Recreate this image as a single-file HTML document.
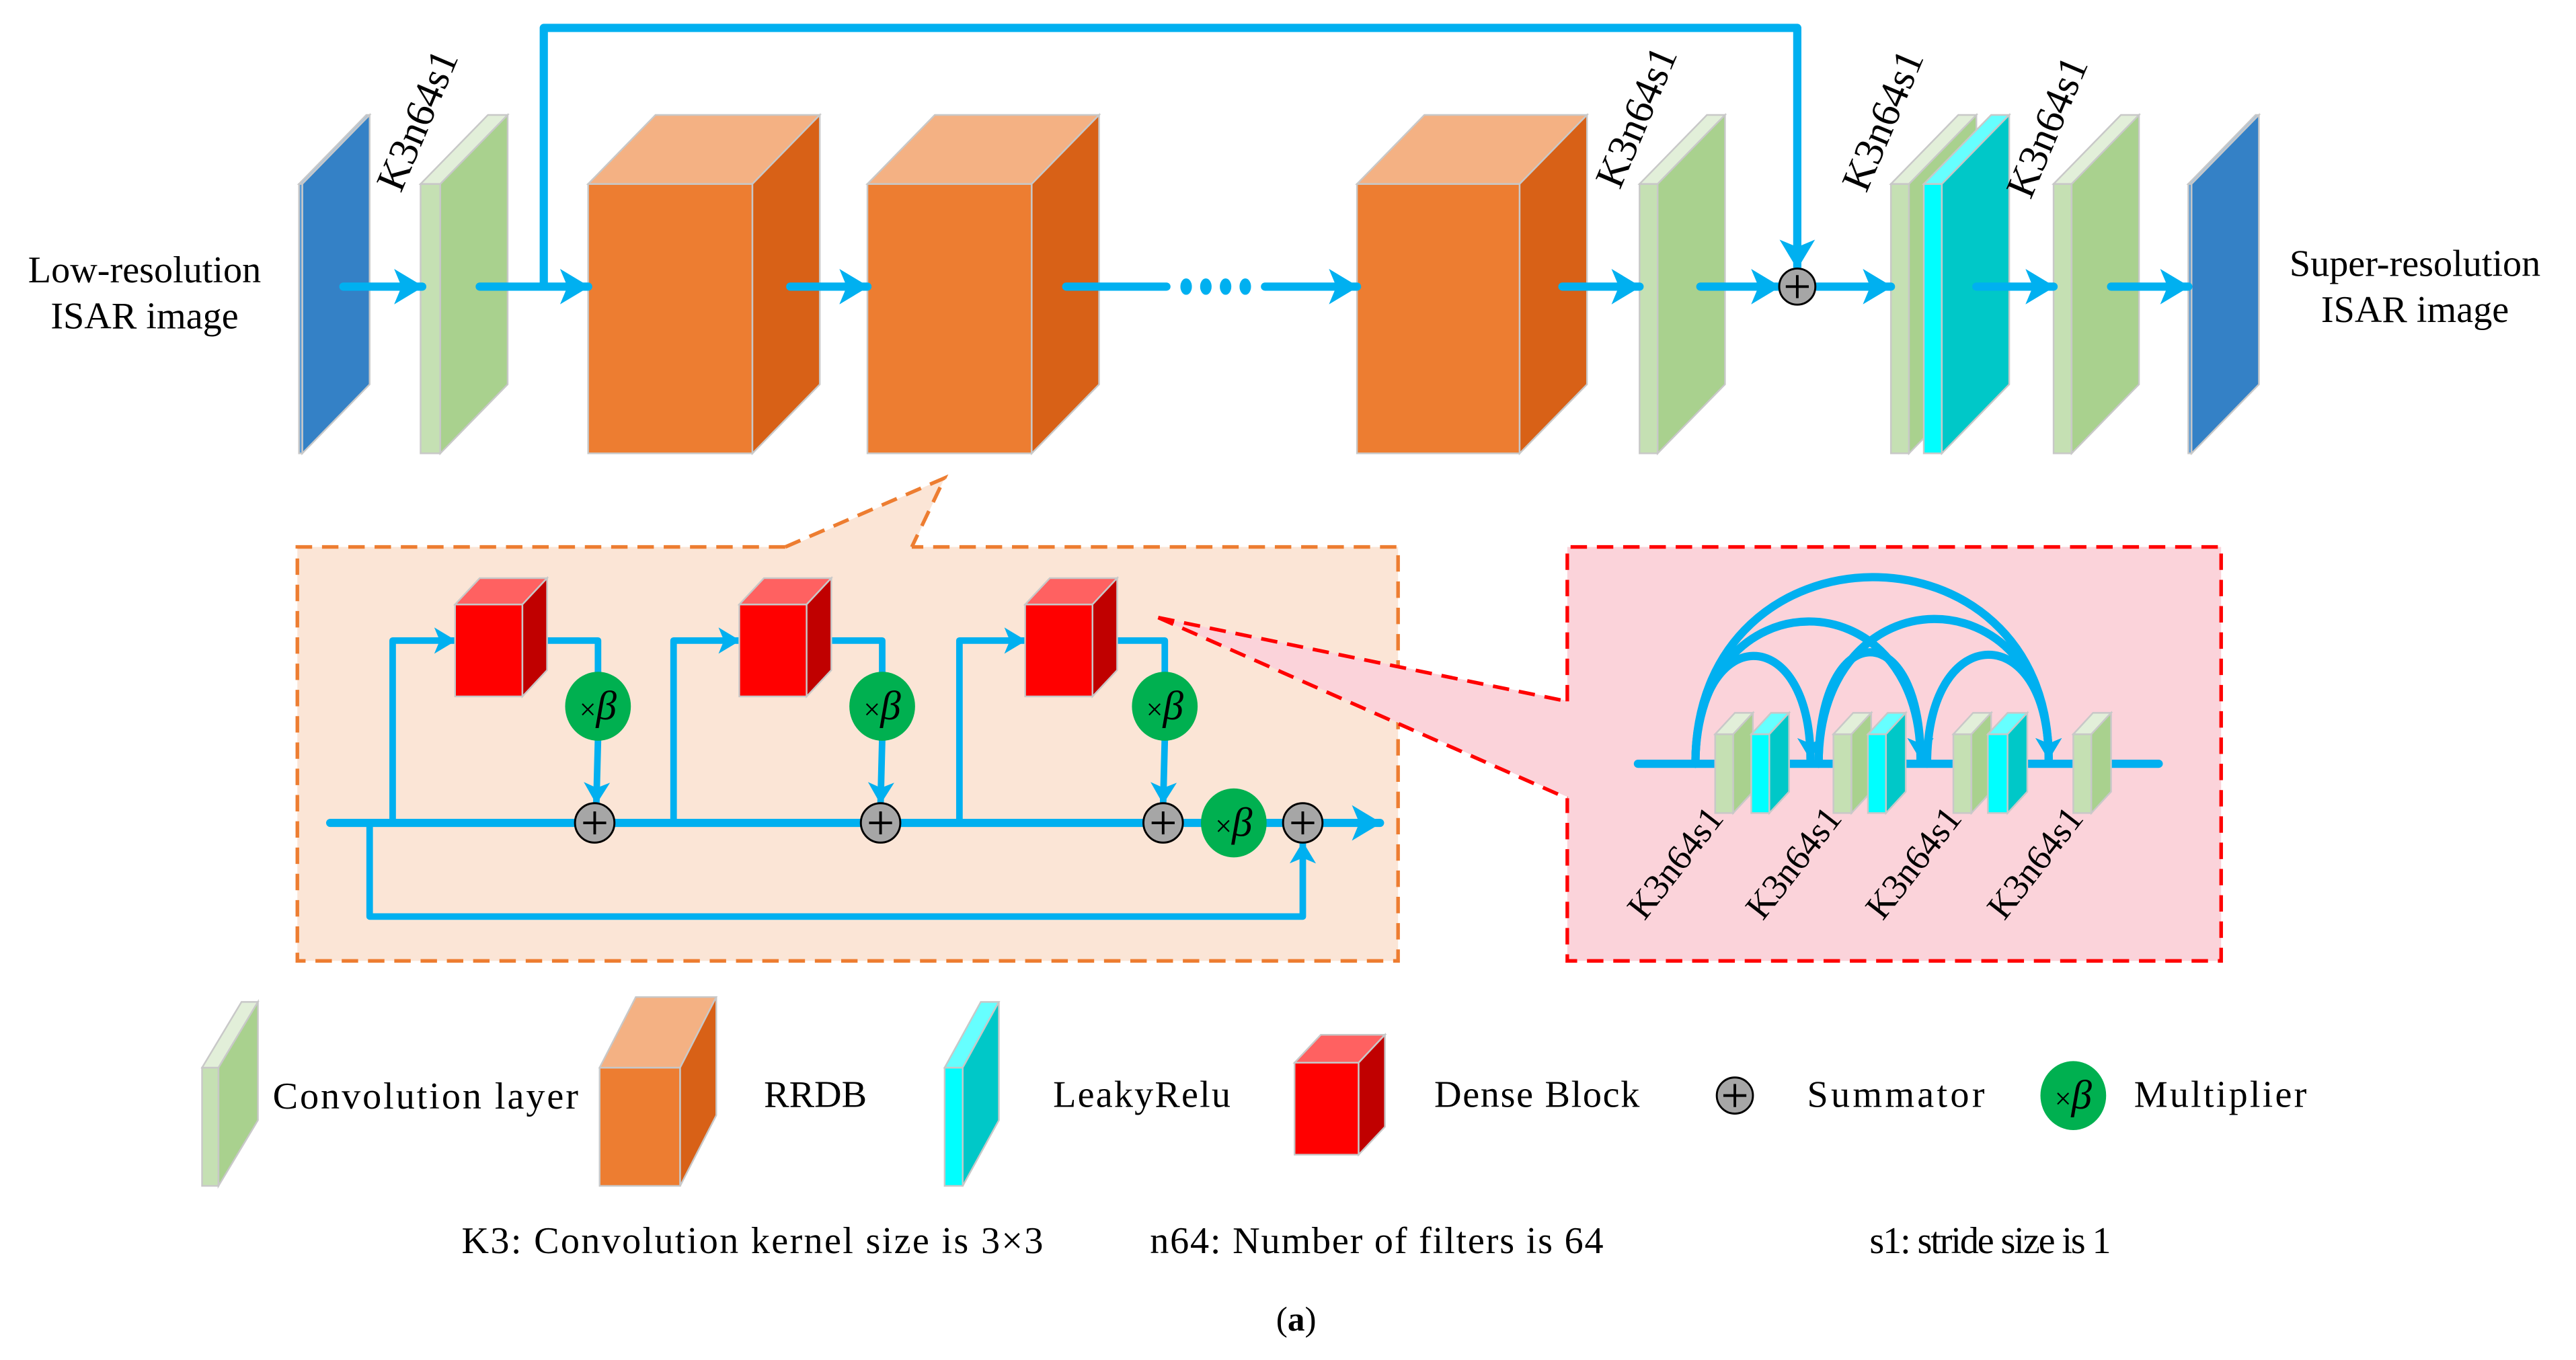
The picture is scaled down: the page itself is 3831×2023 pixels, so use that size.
<!DOCTYPE html>
<html><head><meta charset="utf-8"><style>
html,body{margin:0;padding:0;background:#fff;}
svg{display:block;}
text{font-family:"Liberation Serif",serif;fill:#000;}
</style></head><body>
<svg width="3831" height="2023" viewBox="0 0 1568 828" xmlns="http://www.w3.org/2000/svg">
<defs>
<marker id="ah" viewBox="0 0 20 24" refX="19" refY="12" markerWidth="18" markerHeight="23" markerUnits="userSpaceOnUse" orient="auto"><path d="M0,0 L20,12 L0,24 L5,12 z" fill="#00b0f0"/></marker>
<marker id="ahs" viewBox="0 0 20 24" refX="19" refY="12" markerWidth="14" markerHeight="16" markerUnits="userSpaceOnUse" orient="auto"><path d="M0,0 L20,12 L0,24 L5,12 z" fill="#00b0f0"/></marker>
</defs>
<g stroke="#c8c8c8" stroke-width="1">
<polygon points="182,112 223,70 225,70 184,112" fill="#9dc3e6"/>
<polygon points="184,112 225,70 225,234 184,276" fill="#3481c6"/>
<rect x="182" y="112" width="2" height="164" fill="#5b9bd5"/>

<rect x="256" y="112" width="12" height="164" fill="#c5e0b3"/>
<polygon points="256,112 297,70 309,70 268,112" fill="#e2efd9"/>
<polygon points="268,112 309,70 309,234 268,276" fill="#a9d18e"/>

<rect x="358" y="112" width="100" height="164" fill="#ed7d31"/>
<polygon points="358,112 399,70 499,70 458,112" fill="#f4b183"/>
<polygon points="458,112 499,70 499,234 458,276" fill="#d86117"/>

<rect x="528" y="112" width="100" height="164" fill="#ed7d31"/>
<polygon points="528,112 569,70 669,70 628,112" fill="#f4b183"/>
<polygon points="628,112 669,70 669,234 628,276" fill="#d86117"/>

<rect x="826" y="112" width="99" height="164" fill="#ed7d31"/>
<polygon points="826,112 867,70 966,70 925,112" fill="#f4b183"/>
<polygon points="925,112 966,70 966,234 925,276" fill="#d86117"/>

<rect x="998" y="112" width="11" height="164" fill="#c5e0b3"/>
<polygon points="998,112 1039,70 1050,70 1009,112" fill="#e2efd9"/>
<polygon points="1009,112 1050,70 1050,234 1009,276" fill="#a9d18e"/>

<rect x="1151" y="112" width="11" height="164" fill="#c5e0b3"/>
<polygon points="1151,112 1192,70 1203,70 1162,112" fill="#e2efd9"/>
<polygon points="1162,112 1203,70 1203,234 1162,276" fill="#a9d18e"/>
<rect x="1171" y="112" width="11" height="164" fill="#00ffff"/>
<polygon points="1171,112 1212,70 1223,70 1182,112" fill="#66ffff"/>
<polygon points="1182,112 1223,70 1223,234 1182,276" fill="#00c8c8"/>

<rect x="1250" y="112" width="11" height="164" fill="#c5e0b3"/>
<polygon points="1250,112 1291,70 1302,70 1261,112" fill="#e2efd9"/>
<polygon points="1261,112 1302,70 1302,234 1261,276" fill="#a9d18e"/>

<polygon points="1332,112 1373,70 1375,70 1334,112" fill="#9dc3e6"/>
<polygon points="1334,112 1375,70 1375,234 1334,276" fill="#3481c6"/>
<rect x="1332" y="112" width="2" height="164" fill="#5b9bd5"/>
</g>

<g stroke="#00b0f0" stroke-width="5" fill="none" stroke-linecap="round">
<line x1="209" y1="174.5" x2="257" y2="174.5" marker-end="url(#ah)"/>
<line x1="292" y1="174.5" x2="358" y2="174.5" marker-end="url(#ah)"/>
<line x1="481" y1="174.5" x2="528" y2="174.5" marker-end="url(#ah)"/>
<line x1="649" y1="174.5" x2="710" y2="174.5"/>
<line x1="770" y1="174.5" x2="826" y2="174.5" marker-end="url(#ah)"/>
<line x1="951" y1="174.5" x2="998" y2="174.5" marker-end="url(#ah)"/>
<line x1="1035" y1="174.5" x2="1083" y2="174.5" marker-end="url(#ah)"/>
<line x1="1106" y1="174.5" x2="1151" y2="174.5" marker-end="url(#ah)"/>
<line x1="1203" y1="174.5" x2="1250" y2="174.5" marker-end="url(#ah)"/>
<line x1="1285" y1="174.5" x2="1332" y2="174.5" marker-end="url(#ah)"/>
<polyline points="331,174.5 331,17 1094,17 1094,163" stroke-linecap="butt" stroke-linejoin="round" marker-end="url(#ah)"/>
</g>
<g fill="#00b0f0"><ellipse cx="722" cy="174.5" rx="3.5" ry="5"/><ellipse cx="734" cy="174.5" rx="3.5" ry="5"/><ellipse cx="746" cy="174.5" rx="3.5" ry="5"/><ellipse cx="758" cy="174.5" rx="3.5" ry="5"/></g>
<g><circle cx="1094" cy="174.5" r="11" fill="#a6a6a6" stroke="#000" stroke-width="1.2"/><path d="M1087,174.5 H1101 M1094,167.5 V181.5" stroke="#000" stroke-width="1.6"/></g>

<text x="88" y="172" font-size="23" text-anchor="middle">Low-resolution</text>
<text x="88" y="200" font-size="23" text-anchor="middle">ISAR image</text>
<text x="1470" y="168" font-size="23" text-anchor="middle">Super-resolution</text>
<text x="1470" y="196" font-size="23" text-anchor="middle">ISAR image</text>
<g font-size="25">
<text transform="translate(244,118) rotate(-67)">K3n64s1</text>
<text transform="translate(986,116) rotate(-67)">K3n64s1</text>
<text transform="translate(1136,118) rotate(-67)">K3n64s1</text>
<text transform="translate(1236,122) rotate(-67)">K3n64s1</text>
</g>

<rect x="181" y="333" width="670" height="252" fill="#fbe5d6"/>
<polygon points="478,334 575,291 555,334" fill="#fbe5d6"/>
<g stroke="#ed7d31" stroke-width="2.2" stroke-dasharray="10,6" fill="none">
<polyline points="478,333 181,333 181,585 851,585 851,333 555,333"/>
<polyline points="478,333 575,291 555,333"/>
</g>

<rect x="954" y="333" width="398" height="252" fill="#fbd3da"/>
<polygon points="705,376 956,427 956,486" fill="#fbd3da"/>
<g stroke="#ff0000" stroke-width="2.2" stroke-dasharray="10,6" fill="none">
<polyline points="954,427 954,333 1352,333 1352,585 954,585 954,486"/>
<line x1="705" y1="376" x2="954" y2="427"/>
<line x1="705" y1="376" x2="954" y2="486"/>
</g>

<g stroke="#00b0f0" stroke-width="4" fill="none" stroke-linecap="round" stroke-linejoin="round">
<line x1="201" y1="501" x2="840" y2="501" stroke-width="5" marker-end="url(#ah)"/>
<polyline points="225,501 225,558 793,558 793,513" marker-end="url(#ahs)"/>
<polyline points="239,501 239,390 277,390" marker-end="url(#ahs)"/>
<polyline points="327,390 364,390 364,410"/>
<line x1="364" y1="450" x2="363" y2="489" marker-end="url(#ahs)"/>
<polyline points="410,501 410,390 450,390" marker-end="url(#ahs)"/>
<polyline points="500,390 537,390 537,410"/>
<line x1="537" y1="450" x2="536" y2="489" marker-end="url(#ahs)"/>
<polyline points="584,501 584,390 624,390" marker-end="url(#ahs)"/>
<polyline points="674,390 709,390 709,410"/>
<line x1="709" y1="450" x2="708" y2="489" marker-end="url(#ahs)"/>
</g>
<g stroke="#c8c8c8" stroke-width="1">
<rect x="277" y="368" width="41" height="56" fill="#ff0000"/>
<polygon points="277,368 292,352 333,352 318,368" fill="#ff6161"/>
<polygon points="318,368 333,352 333,408 318,424" fill="#c00000"/>
<rect x="450" y="368" width="41" height="56" fill="#ff0000"/>
<polygon points="450,368 465,352 506,352 491,368" fill="#ff6161"/>
<polygon points="491,368 506,352 506,408 491,424" fill="#c00000"/>
<rect x="624" y="368" width="41" height="56" fill="#ff0000"/>
<polygon points="624,368 639,352 680,352 665,368" fill="#ff6161"/>
<polygon points="665,368 680,352 680,408 665,424" fill="#c00000"/>
</g>
<g>
<ellipse cx="364" cy="430" rx="20" ry="21" fill="#00b050"/>
<ellipse cx="537" cy="430" rx="20" ry="21" fill="#00b050"/>
<ellipse cx="709" cy="430" rx="20" ry="21" fill="#00b050"/>
<ellipse cx="751" cy="501" rx="20" ry="21" fill="#00b050"/>
</g>
<g font-size="18" text-anchor="middle">
<text x="364" y="438">×<tspan font-style="italic" font-size="25">β</tspan></text>
<text x="537" y="438">×<tspan font-style="italic" font-size="25">β</tspan></text>
<text x="709" y="438">×<tspan font-style="italic" font-size="25">β</tspan></text>
<text x="751" y="509">×<tspan font-style="italic" font-size="25">β</tspan></text>
</g>
<g stroke="#000" stroke-width="1.2">
<circle cx="362" cy="501" r="12" fill="#a6a6a6"/><path d="M355,501 H369 M362,494 V508" stroke-width="1.6"/>
<circle cx="536" cy="501" r="12" fill="#a6a6a6"/><path d="M529,501 H543 M536,494 V508" stroke-width="1.6"/>
<circle cx="708" cy="501" r="12" fill="#a6a6a6"/><path d="M701,501 H715 M708,494 V508" stroke-width="1.6"/>
<circle cx="793" cy="501" r="12" fill="#a6a6a6"/><path d="M786,501 H800 M793,494 V508" stroke-width="1.6"/>
</g>

<g stroke="#00b0f0" stroke-width="5" fill="none" stroke-linecap="round">
<line x1="997" y1="465" x2="1044" y2="465"/>
<line x1="1081" y1="465" x2="1116" y2="465"/>
<line x1="1152" y1="465" x2="1189" y2="465"/>
<line x1="1226" y1="465" x2="1262" y2="465"/>
<line x1="1280" y1="465" x2="1314" y2="465"/>
<path d="M1032,465 C1032,378 1102,378 1102,462" marker-end="url(#ahs)"/>
<path d="M1032,465 C1032,350 1169,350 1169,462" marker-end="url(#ahs)"/>
<path d="M1032,465 C1032,314 1247,314 1247,462" marker-end="url(#ahs)"/>
<path d="M1107,465 C1107,375 1169,375 1169,462" marker-end="url(#ahs)"/>
<path d="M1107,465 C1107,348 1247,348 1247,462" marker-end="url(#ahs)"/>
<path d="M1173,465 C1173,377 1247,377 1247,462" marker-end="url(#ahs)"/>
</g>
<g stroke="#c8c8c8" stroke-width="1">
<rect x="1044" y="447" width="11" height="48" fill="#c5e0b3"/>
<polygon points="1044,447 1056,434 1067,434 1055,447" fill="#e2efd9"/>
<polygon points="1055,447 1067,434 1067,482 1055,495" fill="#a9d18e"/>
<rect x="1066" y="447" width="11" height="48" fill="#00ffff"/>
<polygon points="1066,447 1078,434 1089,434 1077,447" fill="#66ffff"/>
<polygon points="1077,447 1089,434 1089,482 1077,495" fill="#00c8c8"/>
<rect x="1116" y="447" width="11" height="48" fill="#c5e0b3"/>
<polygon points="1116,447 1128,434 1139,434 1127,447" fill="#e2efd9"/>
<polygon points="1127,447 1139,434 1139,482 1127,495" fill="#a9d18e"/>
<rect x="1137" y="447" width="11" height="48" fill="#00ffff"/>
<polygon points="1137,447 1149,434 1160,434 1148,447" fill="#66ffff"/>
<polygon points="1148,447 1160,434 1160,482 1148,495" fill="#00c8c8"/>
<rect x="1189" y="447" width="11" height="48" fill="#c5e0b3"/>
<polygon points="1189,447 1201,434 1212,434 1200,447" fill="#e2efd9"/>
<polygon points="1200,447 1212,434 1212,482 1200,495" fill="#a9d18e"/>
<rect x="1210" y="447" width="12" height="48" fill="#00ffff"/>
<polygon points="1210,447 1222,434 1234,434 1222,447" fill="#66ffff"/>
<polygon points="1222,447 1234,434 1234,482 1222,495" fill="#00c8c8"/>
<rect x="1262" y="447" width="11" height="48" fill="#c5e0b3"/>
<polygon points="1262,447 1274,434 1285,434 1273,447" fill="#e2efd9"/>
<polygon points="1273,447 1285,434 1285,482 1273,495" fill="#a9d18e"/>
</g>
<g font-size="22">
<text transform="translate(1001,561) rotate(-52)">K3n64s1</text>
<text transform="translate(1073,561) rotate(-52)">K3n64s1</text>
<text transform="translate(1146,561) rotate(-52)">K3n64s1</text>
<text transform="translate(1220,561) rotate(-52)">K3n64s1</text>
</g>

<g stroke="#c8c8c8" stroke-width="1">
<rect x="123" y="650" width="10" height="72" fill="#c5e0b3"/>
<polygon points="123,650 147,610 157,610 133,650" fill="#e2efd9"/>
<polygon points="133,650 157,610 157,682 133,722" fill="#a9d18e"/>
<rect x="365" y="650" width="49" height="72" fill="#ed7d31"/>
<polygon points="365,650 387,607 436,607 414,650" fill="#f4b183"/>
<polygon points="414,650 436,607 436,679 414,722" fill="#d86117"/>
<rect x="575" y="650" width="11" height="72" fill="#00ffff"/>
<polygon points="575,650 597,610 608,610 586,650" fill="#66ffff"/>
<polygon points="586,650 608,610 608,682 586,722" fill="#00c8c8"/>
<rect x="788" y="647" width="39" height="56" fill="#ff0000"/>
<polygon points="788,647 804,630 843,630 827,647" fill="#ff6161"/>
<polygon points="827,647 843,630 843,686 827,703" fill="#c00000"/>
</g>
<circle cx="1056" cy="667" r="11" fill="#a6a6a6" stroke="#000" stroke-width="1.2"/><path d="M1049,667 H1063 M1056,660 V674" stroke="#000" stroke-width="1.6"/>
<ellipse cx="1262" cy="667" rx="20" ry="21" fill="#00b050"/>
<g font-size="23">
<text x="1262" y="675" text-anchor="middle" font-size="18">×<tspan font-style="italic" font-size="25">β</tspan></text>
<text x="166" y="675" textLength="186">Convolution layer</text>
<text x="465" y="674">RRDB</text>
<text x="641" y="674" textLength="108">LeakyRelu</text>
<text x="873" y="674" textLength="125">Dense Block</text>
<text x="1100" y="674" textLength="108">Summator</text>
<text x="1299" y="674" textLength="105">Multiplier</text>
<text x="281" y="763" textLength="354">K3: Convolution kernel size is 3×3</text>
<text x="700" y="763" textLength="276">n64: Number of filters is 64</text>
<text x="1138" y="763" textLength="147">s1: stride size is 1</text>
<text x="789" y="810" text-anchor="middle" font-size="21">(<tspan font-weight="bold">a</tspan>)</text>
</g>
</svg>
</body></html>
